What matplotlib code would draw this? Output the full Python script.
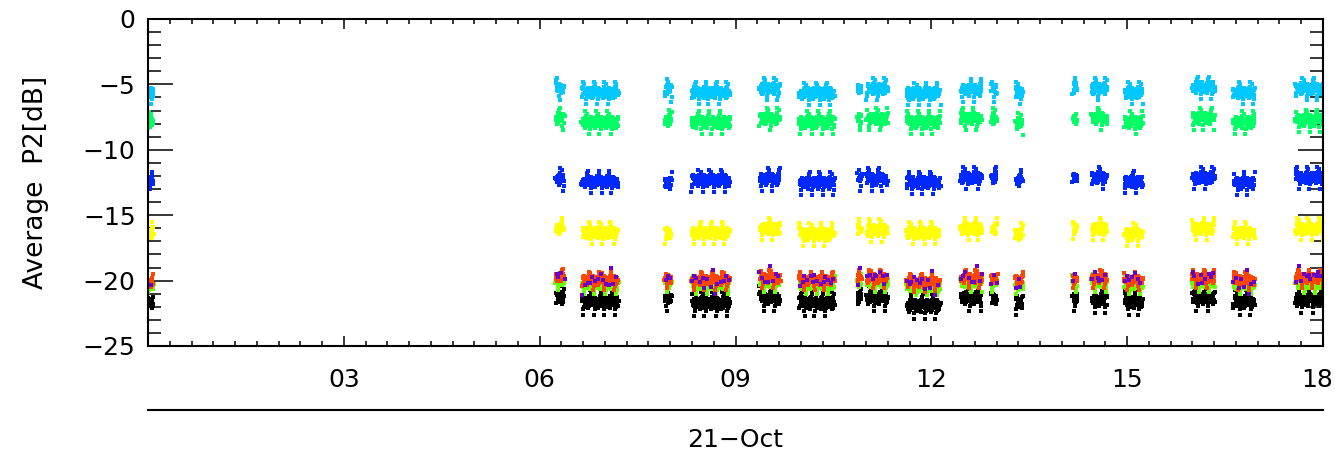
import numpy as np
import matplotlib
matplotlib.use("Agg")
import matplotlib.pyplot as plt
import matplotlib.transforms as mtransforms
from matplotlib.lines import Line2D
from matplotlib.ticker import MultipleLocator

# measurement bursts on 21-Oct, hours (start, end)
burst_start = [0.00, 6.25, 6.65, 7.92, 8.33, 9.37, 9.98, 10.87, 11.01, 11.62,
               12.45, 12.92, 13.29, 14.17, 14.46, 14.96, 16.00, 16.63, 17.58]
burst_end = [0.08, 6.37, 7.20, 8.02, 8.91, 9.68, 10.52, 10.93, 11.33, 12.13,
             12.77, 13.00, 13.40, 14.23, 14.69, 15.24, 16.34, 16.95, 18.00]

# mean level of each channel per burst, dB
cyan_lvl = [-5.6, -5.3, -5.6, -5.4, -5.6, -5.3, -5.65, -5.3, -5.3, -5.65,
            -5.4, -5.4, -5.6, -5.3, -5.3, -5.6, -5.2, -5.6, -5.3]
green_lvl = [-7.9, -7.6, -7.85, -7.7, -7.85, -7.6, -7.85, -7.6, -7.6, -7.85,
             -7.6, -7.6, -7.95, -7.6, -7.55, -7.85, -7.55, -7.85, -7.7]
blue_lvl = [-12.5, -12.2, -12.4, -12.5, -12.3, -12.2, -12.5, -12.2, -12.2, -12.45,
            -12.1, -12.1, -12.3, -12.1, -12.1, -12.4, -12.1, -12.5, -12.1]
yellow_lvl = [-16.3, -16.0, -16.3, -16.3, -16.3, -16.0, -16.4, -16.1, -16.1, -16.3,
              -16.0, -16.0, -16.4, -15.9, -16.0, -16.4, -16.0, -16.3, -16.0]
lime_lvl = [-20.4, -20.0, -20.3, -20.1, -20.3, -20.1, -20.3, -20.1, -20.1, -20.4,
            -20.1, -20.1, -20.3, -20.1, -20.1, -20.3, -20.1, -20.3, -20.2]
red_lvl = [-20.1, -19.7, -19.95, -19.8, -19.95, -19.8, -19.95, -19.8, -19.8, -20.1,
           -19.8, -19.8, -19.95, -19.8, -19.8, -19.95, -19.8, -19.95, -19.8]
purple_lvl = [-20.0, -19.8, -20.0, -19.9, -19.9, -19.8, -20.0, -19.8, -19.8, -20.0,
              -19.8, -19.8, -19.9, -19.8, -19.8, -19.9, -19.8, -19.9, -19.8]
black_lvl = [-21.6, -21.3, -21.6, -21.3, -21.7, -21.3, -21.7, -21.3, -21.3, -21.9,
             -21.3, -21.3, -21.6, -21.3, -21.45, -21.6, -21.3, -21.6, -21.45]

# typical sample-to-sample scatter read off the clouds, dB
scatter_db = [0.08, -0.21, 0.35, -0.04, 0.17, -0.46, 0.22, -0.12, 0.03, 0.28,
              -0.30, 0.11, -0.16, 0.78, -0.06, 0.24, -0.37, 0.01, 0.14, -0.19,
              0.41, -0.09, -0.92, 0.18, 0.05, -0.26, 0.31, -0.13, 0.10, -0.55,
              0.26, -0.02, 0.13, -0.33, 0.62, -0.07, 0.20, -0.24, 0.06, -0.15, 0.38]
# timestamp wobble of the samples, hours
scatter_t = [0.004, -0.011, 0.007, -0.002, 0.013, -0.008, 0.001, 0.010, -0.013,
             0.005, -0.006, 0.012, -0.004, 0.008, -0.010, 0.002, 0.014, -0.007,
             0.003, -0.012, 0.009, -0.001, 0.006]

xtick_vals = [3, 6, 9, 12, 15, 18]
xtick_text = ['03', '06', '09', '12', '15', '18']
ytick_vals = [0, -5, -10, -15, -20, -25]

# levels, colour, spread, phase, keep every n-th sample
channels = [
    (cyan_lvl, '#00c8ff', 1.0, 0, 1),
    (green_lvl, '#00ff64', 1.0, 5, 1),
    (blue_lvl, '#0028ff', 1.0, 11, 1),
    (yellow_lvl, '#ffff00', 1.0, 17, 1),
    (black_lvl, '#000000', 1.1, 23, 1),
    (lime_lvl, '#64ff00', 0.8, 29, 1),
    (red_lvl, '#ff4600', 0.8, 3, 1),
    (purple_lvl, '#6a00c8', 1.2, 37, 10),
]

SAMPLE_STEP = 0.004  # hours between samples


def burst_samples(levels, spread, phase, every):
    ts, vs = [], []
    jy = np.array(scatter_db)
    jt = np.array(scatter_t)
    k = phase
    for t0, t1, lvl in zip(burst_start, burst_end, levels):
        t = np.arange(t0, t1, SAMPLE_STEP)
        i = np.arange(len(t))
        t = t + jt[(i * 5 + k) % len(jt)]
        v = lvl + spread * jy[(i * 7 + k) % len(jy)]
        ts.append(t[::every])
        vs.append(v[::every])
        k += 13
    return np.concatenate(ts), np.concatenate(vs)


fig = plt.figure(figsize=(13.35, 4.62), dpi=100)
ax = fig.add_axes([0.1109, 0.2511, 0.8801, 0.7078])

for levels, color, spread, phase, every in channels:
    t, v = burst_samples(levels, spread, phase, every)
    ax.plot(t, v, 's', color=color, markersize=2.4, markeredgewidth=0)

ax.set_xlim(0, 18)
ax.set_ylim(-25, 0)

ax.set_xticks(xtick_vals)
ax.set_xticklabels(xtick_text)
ax.xaxis.set_minor_locator(MultipleLocator(1 / 3))
ax.set_yticks(ytick_vals)
ax.yaxis.set_minor_locator(MultipleLocator(1))

ax.tick_params(axis='x', which='major', direction='in', length=7, width=1.1,
               top=True, labelsize=18, pad=16)
ax.tick_params(axis='x', which='minor', direction='in', length=3.5, width=1.1, top=True)
ax.tick_params(axis='y', which='major', direction='in', length=18, width=1.1,
               right=True, labelsize=18, pad=9)
ax.tick_params(axis='y', which='minor', direction='in', length=9.5, width=1.1, right=True)
for s in ax.spines.values():
    s.set_linewidth(1.5)

# keep the last hour label inside the picture
last = ax.get_xticklabels()[-1]
last.set_transform(last.get_transform() +
                   mtransforms.ScaledTranslation(-6 / 100, 0, fig.dpi_scale_trans))

ax.set_ylabel('Average  P2[dB]', fontsize=19, labelpad=24)

# date axis under the hour axis
fig.add_artist(Line2D([0.1109, 0.991], [0.1126, 0.1126], transform=fig.transFigure,
                      color='black', linewidth=1.5))
fig.text(0.551, 0.048, '21\u2212Oct', ha='center', va='center', fontsize=18)

fig.savefig('out.png', dpi=100)
